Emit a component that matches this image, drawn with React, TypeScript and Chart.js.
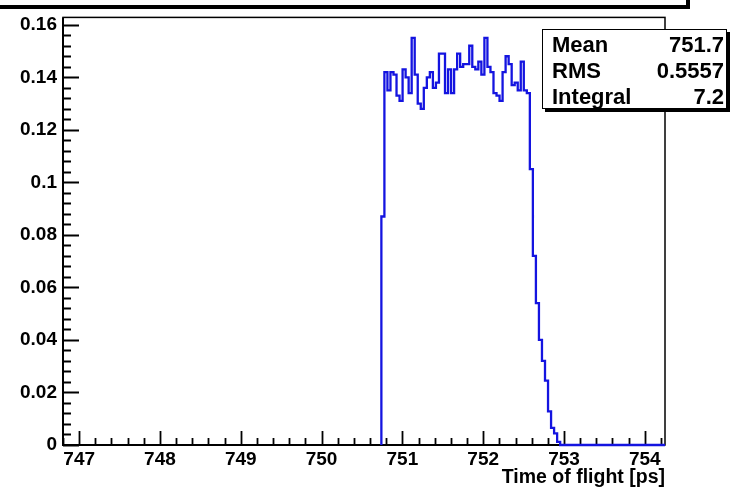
import React, { useEffect, useRef } from "react";
import { Chart, registerables } from "chart.js";

Chart.register(...registerables);

// ---------- data ----------
const binStart = 750.74;
const binWidth = 0.0375;
const binValues = [
  0.087,
  0.142, 0.135, 0.142, 0.141, 0.133, 0.131, 0.143, 0.14, 0.134, 0.155,
  0.141, 0.13, 0.128, 0.136, 0.14, 0.142, 0.136, 0.138, 0.149, 0.149,
  0.134, 0.143, 0.134, 0.143, 0.149, 0.144, 0.145, 0.145, 0.152, 0.144,
  0.143, 0.146, 0.141, 0.155, 0.144, 0.142, 0.134, 0.133, 0.131, 0.142,
  0.148, 0.145, 0.137, 0.138, 0.135, 0.146, 0.135, 0.134,
  0.105, 0.072, 0.054, 0.04, 0.032, 0.0245, 0.0128, 0.0065, 0.0044, 0.0012,
];
const xMin = 746.8;
const xMax = 754.25;
const yMin = 0;
const yMax = 0.1628;
const xMajorTicks = [747, 748, 749, 750, 751, 752, 753, 754];
const yMajorTicks = [0, 0.02, 0.04, 0.06, 0.08, 0.1, 0.12, 0.14, 0.16];
const xMinorStep = 0.2;
const yMinorStep = 0.004;
const statsLabels = ["Mean", "RMS", "Integral"];
const statsValues = ["751.7", "0.5557", "7.2"];
const xTitle = "Time of flight [ps]";

const FONT = '"Liberation Sans", Arial, Helvetica, sans-serif';
const LINE_COLOR = "#1414e0";

const framePlugin = {
  id: "rootFrame",
  beforeDatasetsDraw(chart: any) {
    const { ctx, chartArea: a, scales } = chart;
    const xs = scales.x;
    const ys = scales.y;
    ctx.save();
    ctx.strokeStyle = "#000";
    ctx.lineWidth = 1.5;
    ctx.strokeRect(a.left, a.top, a.right - a.left, a.bottom - a.top);
    ctx.lineWidth = 2;
    ctx.beginPath();
    ctx.moveTo(a.left, a.top);
    ctx.lineTo(a.left, a.bottom);
    ctx.lineTo(a.right, a.bottom);
    ctx.stroke();
    // x ticks
    ctx.lineWidth = 1.8;
    ctx.beginPath();
    for (let k = -2; k < 60; k++) {
      const v = xMajorTicks[0] + k * xMinorStep;
      if (v < xMin - 1e-9 || v > xMax + 1e-9) continue;
      const isMajor = Math.abs(v - Math.round(v)) < 1e-6;
      const px = Math.round(xs.getPixelForValue(v)) + 0.5;
      const len = isMajor ? 14 : 7;
      ctx.moveTo(px, a.bottom);
      ctx.lineTo(px, a.bottom - len);
    }
    ctx.stroke();
    // y ticks
    ctx.beginPath();
    for (let k = 0; k < 60; k++) {
      const v = yMin + k * yMinorStep;
      if (v > yMax + 1e-9) break;
      const isMajor = k % 5 === 0;
      const py = Math.round(ys.getPixelForValue(v)) + 0.5;
      const len = isMajor ? 16 : 8;
      ctx.moveTo(a.left, py);
      ctx.lineTo(a.left + len, py);
    }
    ctx.stroke();
    ctx.restore();
  },
};

export default function App() {
  const canvasRef = useRef<HTMLCanvasElement | null>(null);

  useEffect(() => {
    document.body.style.margin = "0";
    const canvas = canvasRef.current;
    if (!canvas) return;
    const points: { x: number; y: number }[] = [{ x: binStart, y: 0 }];
    binValues.forEach((v, i) => {
      points.push({ x: binStart + (i + 1) * binWidth, y: v });
    });
    points.push({ x: xMax, y: 0 });

    const chart = new Chart(canvas, {
      type: "line",
      data: {
        datasets: [
          {
            data: points,
            stepped: "after",
            borderColor: LINE_COLOR,
            borderWidth: 2.3,
            pointRadius: 0,
            fill: false,
            tension: 0,
            clip: 4,
          } as any,
        ],
      },
      options: {
        animation: false,
        responsive: false,
        parsing: false as any,
        layout: { padding: { left: 0, right: 73, top: 13, bottom: 0 } },
        plugins: {
          legend: { display: false },
          tooltip: { enabled: false },
          title: { display: false },
        },
        scales: {
          x: {
            type: "linear",
            min: xMin,
            max: xMax,
            grid: { display: false, drawTicks: false },
            border: { display: false },
            afterBuildTicks: (scale: any) => {
              scale.ticks = xMajorTicks.map((v) => ({ value: v }));
            },
            afterFit: (scale: any) => {
              scale.height = 47;
            },
            ticks: {
              color: "#000",
              padding: 3,
              maxRotation: 0,
              autoSkip: false,
              font: { family: FONT, size: 19, weight: "bold" },
              callback: (v: any) => String(v),
            },
            title: {
              display: true,
              text: xTitle,
              align: "end",
              color: "#000",
              padding: { top: 0, bottom: 3 },
              font: { family: FONT, size: 19.5, weight: "bold" },
            },
          },
          y: {
            type: "linear",
            min: yMin,
            max: yMax,
            grid: { display: false, drawTicks: false },
            border: { display: false },
            afterBuildTicks: (scale: any) => {
              scale.ticks = yMajorTicks.map((v) => ({ value: v }));
            },
            afterFit: (scale: any) => {
              scale.width = 63;
            },
            ticks: {
              color: "#000",
              padding: 6,
              autoSkip: false,
              font: { family: FONT, size: 19, weight: "bold" },
              callback: (v: any) => (Number(v) === 0 ? "0" : String(Number(Number(v).toFixed(3)))),
            },
          },
        },
      },
      plugins: [framePlugin],
    });
    return () => chart.destroy();
  }, []);

  return (
    <div
      style={{
        position: "fixed",
        left: 0,
        top: 0,
        width: 738,
        height: 492,
        background: "#fff",
        overflow: "hidden",
        fontFamily: FONT,
      }}
    >
      <canvas ref={canvasRef} width={738} height={492} style={{ width: 738, height: 492, display: "block" }} />
      {/* top title box (cut off at the top edge) */}
      <div
        style={{
          position: "absolute",
          left: -6,
          top: -30,
          width: 690,
          height: 33,
          border: "2px solid #000",
          boxShadow: "2px 2px 0 #000",
          background: "#fff",
        }}
      />
      {/* stats box */}
      <div
        style={{
          position: "absolute",
          left: 542,
          top: 29,
          width: 185,
          height: 80,
          border: "1.5px solid #000",
          boxShadow: "3px 3px 0 #000",
          background: "#fff",
          fontWeight: "bold",
          fontSize: 22,
          color: "#000",
          paddingTop: 2,
          boxSizing: "border-box",
        }}
      >
        {statsLabels.map((l, i) => (
          <div
            key={l}
            style={{
              display: "flex",
              justifyContent: "space-between",
              height: 26,
              lineHeight: "26px",
              paddingLeft: 9,
              paddingRight: 2,
            }}
          >
            <span>{l}</span>
            <span>{statsValues[i]}</span>
          </div>
        ))}
      </div>
    </div>
  );
}
